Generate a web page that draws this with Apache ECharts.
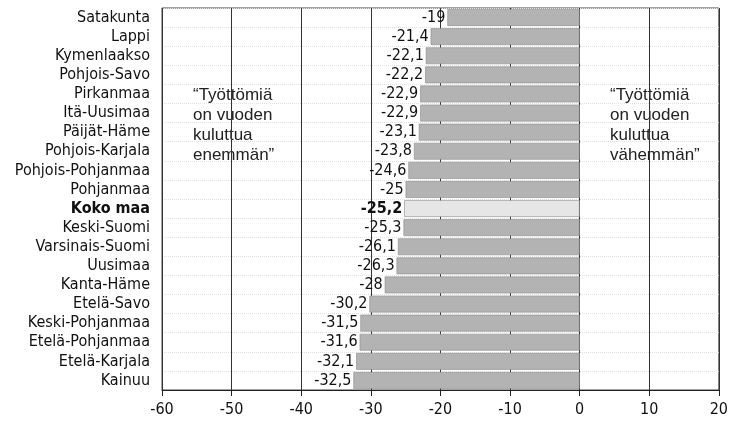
<!DOCTYPE html>
<html>
<head>
<meta charset="utf-8">
<script src="https://cdn.jsdelivr.net/npm/echarts@6/dist/echarts.min.js"></script>
<style>
  html, body { margin: 0; padding: 0; background: #fff; }
  #chart { width: 731px; height: 423px; }
</style>
</head>
<body>
<div id="chart"></div>
<script>
const regions = ['Satakunta', 'Lappi', 'Kymenlaakso', 'Pohjois-Savo', 'Pirkanmaa', 'Itä-Uusimaa',
  'Päijät-Häme', 'Pohjois-Karjala', 'Pohjois-Pohjanmaa', 'Pohjanmaa', 'Koko maa', 'Keski-Suomi',
  'Varsinais-Suomi', 'Uusimaa', 'Kanta-Häme', 'Etelä-Savo', 'Keski-Pohjanmaa', 'Etelä-Pohjanmaa',
  'Etelä-Karjala', 'Kainuu'];
const change = [-19, -21.4, -22.1, -22.2, -22.9, -22.9, -23.1, -23.8, -24.6, -25, -25.2, -25.3,
  -26.1, -26.3, -28, -30.2, -31.5, -31.6, -32.1, -32.5];
const xTicks = [-60, -50, -40, -30, -20, -10, 0, 10, 20];
const highlight = 'Koko maa';
const noteLeft = '\u201cTyöttömiä\non vuoden\nkuluttua\nenemmän\u201d';
const noteRight = '\u201cTyöttömiä\non vuoden\nkuluttua\nvähemmän\u201d';

const narrow = "'Liberation Sans Narrow', 'Arial Narrow', 'DejaVu Sans Condensed', sans-serif";
const wide = "'Liberation Sans', Arial, sans-serif";

let myChart = echarts.init(document.getElementById('chart'));

const seriesData = change.map((v, i) => {
  const isTotal = regions[i] === highlight;
  return {
    value: v,
    itemStyle: { color: isTotal ? '#e6e6e6' : '#b3b3b3' },
    label: { fontWeight: isTotal ? 'bold' : 'normal' }
  };
});

myChart.setOption({
  animation: false,
  grid: { left: 162, right: 9, top: 8, bottom: 33, show: true, borderColor: '#444', borderWidth: 1 },
  xAxis: {
    type: 'value',
    min: xTicks[0],
    max: xTicks[xTicks.length - 1],
    interval: 10,
    axisLine: { show: true, lineStyle: { color: '#222' } },
    axisTick: { show: true, length: 6, lineStyle: { color: '#222' } },
    axisLabel: { color: '#111', fontSize: 16, fontFamily: narrow, margin: 12 },
    splitLine: { show: true, lineStyle: { color: '#333', width: 1 } }
  },
  yAxis: {
    type: 'category',
    data: regions,
    inverse: true,
    axisLine: { show: false },
    axisTick: { show: false },
    axisLabel: {
      interval: 0,
      color: '#111',
      fontSize: 16,
      fontFamily: narrow,
      margin: 12,
      formatter: v => v === highlight ? '{b|' + v + '}' : v,
      rich: { b: { fontWeight: 'bold', fontSize: 16, fontFamily: narrow, color: '#111' } }
    },
    splitLine: { show: true, lineStyle: { color: '#e0e0e0', type: 'dotted' } }
  },
  series: [{
    type: 'bar',
    data: seriesData,
    barCategoryGap: '12%',
    itemStyle: { borderColor: '#8a8a8a', borderWidth: 0.6 },
    label: {
      show: true,
      position: 'left',
      distance: 2,
      color: '#111',
      fontSize: 16,
      fontFamily: narrow,
      formatter: p => String(p.value).replace('.', ',')
    }
  }],
  graphic: [
    { type: 'text', left: 193, top: 85, style: { text: noteLeft, fontSize: 17, lineHeight: 20, fontFamily: wide, fill: '#222' } },
    { type: 'text', left: 610, top: 85, style: { text: noteRight, fontSize: 17, lineHeight: 20, fontFamily: wide, fill: '#222' } }
  ]
});
</script>
</body>
</html>
